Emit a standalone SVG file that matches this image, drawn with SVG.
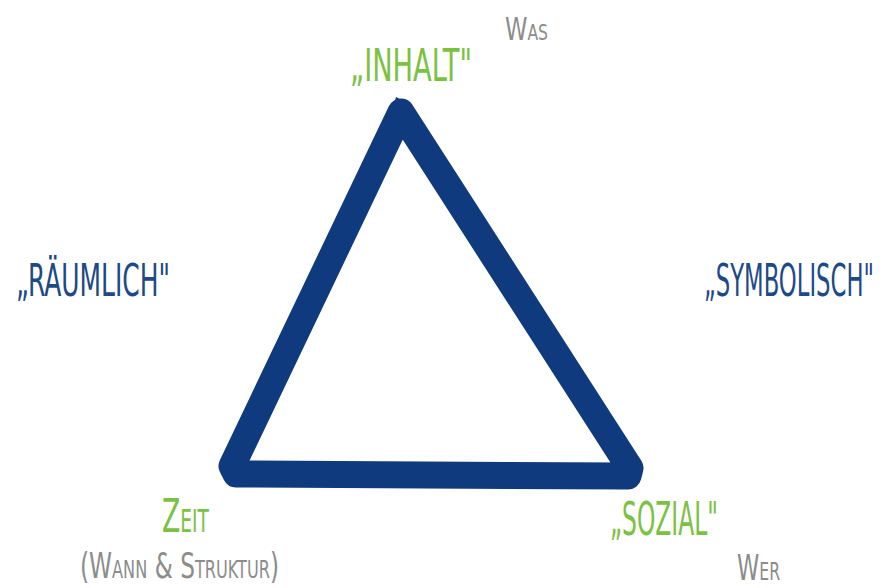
<svg xmlns="http://www.w3.org/2000/svg" width="886" height="588" viewBox="0 0 886 588">
<style>
  .t{font-family:"DejaVu Sans Condensed","Liberation Sans Narrow","Liberation Sans",sans-serif;font-weight:normal;}
  .g{fill:#7bc142;}
  .b{fill:#1d4a86;}
  .s{fill:#8c8c8c;}
  .sc{font-variant:small-caps;}
  .tri{fill:none;stroke:#0f3a7d;stroke-width:27;stroke-linejoin:round;stroke-linecap:round;}
</style>
<rect width="886" height="588" fill="#ffffff"/>
<g id="connectors">
  <path class="tri" d="M401,112 L232,466 L236,474 L628,476 L630,468 Z"/>
  <path d="M396,97 L410,104 L406,122 L390,118 Z" fill="#0f3a7d"/>
</g>
<g id="inhalt">
  <text class="t g" x="350" y="81" font-size="44" textLength="122" lengthAdjust="spacingAndGlyphs">„INHALT"</text>
</g>
<g id="was">
  <text class="t s sc" x="505" y="40" font-size="32" textLength="43" lengthAdjust="spacingAndGlyphs">Was</text>
</g>
<g id="raeumlich">
  <text class="t b" x="16" y="296" font-size="44" textLength="154" lengthAdjust="spacingAndGlyphs">„RÄUMLICH"</text>
</g>
<g id="symbolisch">
  <text class="t b" x="874" y="296" font-size="44" text-anchor="end" textLength="170" lengthAdjust="spacingAndGlyphs">„SYMBOLISCH"</text>
</g>
<g id="zeit">
  <text class="t g sc" x="162" y="532" font-size="46" textLength="47" lengthAdjust="spacingAndGlyphs">Zeit</text>
</g>
<g id="wann">
  <text class="t s sc" x="80" y="578" font-size="36" textLength="199" lengthAdjust="spacingAndGlyphs">(Wann &amp; Struktur)</text>
</g>
<g id="sozial">
  <text class="t g" x="610" y="535" font-size="46" textLength="108" lengthAdjust="spacingAndGlyphs">„SOZIAL"</text>
</g>
<g id="wer">
  <text class="t s sc" x="737" y="580" font-size="36" textLength="43" lengthAdjust="spacingAndGlyphs">Wer</text>
</g>
</svg>
